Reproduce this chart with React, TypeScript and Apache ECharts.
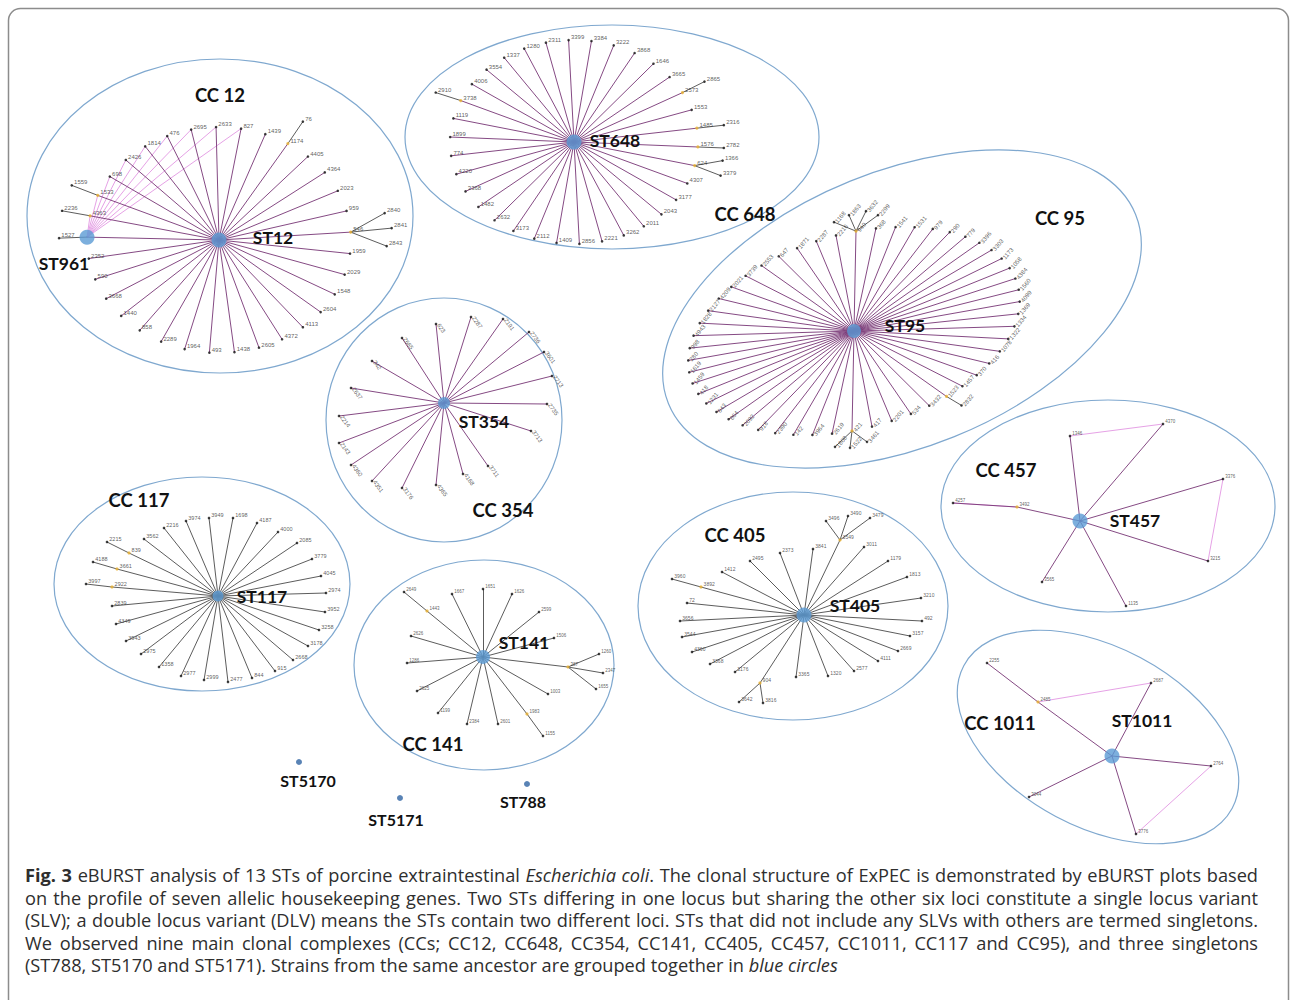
import React, { useEffect, useRef } from "react";
import * as echarts from "echarts";

type Off = [string, number, number];
type Child = [string, string, number, number];
type Pair = [string, string];

// ---------------- DATA ----------------
// CC12: leaves in clockwise order around ST12
const CC12_LEAVES = ["546", "1959", "2029", "1548", "2604", "4113", "4372", "2605", "1438", "493", "1964", "2289", "858", "1440", "3668", "590", "2352", "ST961", "4363", "1533", "698", "2426", "1814", "476", "2695", "2633", "827", "1439", "1174", "4405", "4364", "2023", "959"];
const CC12_CHILDREN: Child[] = [["1174", "76", 15, -22], ["1533", "1559", -26, -10], ["4363", "2236", -28, -5], ["ST961", "1527", -28, 1], ["546", "2840", 34, -19], ["546", "2841", 41, -4], ["546", "2843", 36, 14]];
const CC12_PINK: Pair[] = [["ST961", "4363"], ["ST961", "1533"], ["ST961", "698"], ["ST961", "2426"], ["ST961", "1814"], ["ST961", "476"], ["ST961", "2695"], ["ST961", "2633"], ["ST961", "827"]];

const CC648_LEAVES = ["1576", "624", "4307", "3177", "2043", "2011", "3262", "2221", "2856", "1409", "2112", "3173", "2632", "1482", "3368", "4220", "774", "1899", "1119", "3738", "4006", "3554", "1337", "1280", "2311", "3399", "3384", "3222", "3868", "1646", "3665", "2573", "1553", "1485"];
const CC648_CHILDREN: Child[] = [["2573", "2865", 22, -11], ["1485", "2316", 27, -3], ["1576", "2782", 26, 1], ["624", "1366", 28, -5], ["624", "3379", 26, 10], ["3738", "2910", -25, -8]];

const CC95_LEAVES = ["940", "368", "1541", "1531", "979", "290", "779", "3396", "3303", "1173", "1058", "4384", "1560", "4099", "1369", "1334", "1322", "1078", "416", "370", "1457", "1523", "3432", "534", "2201", "417", "421", "2619", "3964", "142", "2390", "918", "2092", "864", "643", "1231", "418", "1459", "1619", "280", "998", "4943", "1828", "2127", "4209", "2021", "3739", "2553", "647", "1871", "2287", "2216"];
const CC95_CHILDREN: Child[] = [["940", "1168", -22, -9], ["940", "1863", -7, -16], ["940", "3632", 10, -20], ["940", "2299", 22, -16], ["421", "1808", -17, 16], ["421", "1522", -2, 17], ["421", "3461", 15, 11], ["1523", "2832", 15, 9]];

const CC354_SPOKES: Off[] = [["623", -8, -79], ["2287", 27, -86], ["2191", 59, -84], ["2736", 85, -71], ["3601", 100, -51], ["2713", 108, -27], ["2735", 103, 1], ["3713", 87, 28], ["3711", 44, 63], ["4168", 19, 71], ["4365", -8, 82], ["3176", -42, 85], ["4351", -72, 78], ["4360", -93, 62], ["2143", -105, 40], ["2214", -105, 13], ["2637", -93, -15], ["342", -72, -42], ["2665", -42, -65]];

const CC117_SPOKES: Off[] = [["3949", -9, -78], ["1698", 15, -78], ["4187", 39, -73], ["4000", 60, -64], ["2085", 79, -53], ["3779", 94, -37], ["4045", 103, -20], ["2974", 108, -3], ["3952", 107, 16], ["3258", 101, 34], ["3178", 90, 50], ["2668", 75, 64], ["915", 57, 75], ["844", 34, 82], ["2477", 10, 86], ["2999", -14, 84], ["2977", -37, 80], ["1358", -59, 71], ["2975", -77, 58], ["3943", -92, 45], ["4349", -102, 28], ["2839", -106, 10], ["2922", -106, -9], ["3661", -101, -27], ["839", -89, -43], ["3562", -74, -57], ["2216", -54, -68], ["3974", -32, -75]];
const CC117_CHILDREN: Child[] = [["2922", "3997", -26, -3], ["3661", "4188", -24, -7], ["839", "2215", -22, -11]];

const CC141_SPOKES: Off[] = [["1651", 0, -68], ["1626", 29, -63], ["2599", 56, -45], ["1506", 71, -19], ["387", 85, 10], ["1003", 65, 37], ["1983", 44, 57], ["2601", 15, 67], ["2384", -16, 67], ["1199", -45, 56], ["2625", -66, 34], ["1286", -76, 6], ["2626", -72, -21], ["1443", -56, -46], ["1667", -31, -63]];
const CC141_CHILDREN: Child[] = [["387", "1260", 31, -13], ["387", "2347", 35, 6], ["387", "1655", 28, 22], ["1983", "1155", 16, 22], ["1443", "2649", -23, -19]];

const CC405_SPOKES: Off[] = [["3841", 9, -66], ["3549", 36, -75], ["3011", 60, -68], ["1179", 84, -54], ["1813", 103, -38], ["3210", 117, -17], ["492", 118, 6], ["3157", 106, 21], ["2669", 94, 36], ["4111", 74, 46], ["2577", 50, 56], ["1320", 24, 61], ["3365", -8, 62], ["904", -44, 68], ["3176", -69, 57], ["3368", -94, 49], ["4360", -112, 37], ["3544", -122, 22], ["3656", -124, 6], ["72", -117, -12], ["3892", -103, -28], ["1412", -82, -43], ["2495", -54, -54], ["2373", -24, -62]];
const CC405_CHILDREN: Child[] = [["3549", "3496", -14, -19], ["3549", "3490", 8, -24], ["3549", "3479", 30, -22], ["904", "3642", -21, 19], ["904", "3816", 3, 20], ["3892", "3960", -29, -8]];

const CC457_SPOKES: Off[] = [["1346", -10, -85], ["4370", 83, -97], ["3376", 143, -42], ["3215", 128, 40], ["1135", 46, 85], ["3565", -38, 61], ["3492", -63, -14]];
const CC457_CHILDREN: Child[] = [["3492", "4257", -64, -4]];
const CC457_PINK: Pair[] = [["1346", "4370"], ["3376", "3215"], ["3492", "4257"]];

const CC1011_SPOKES: Off[] = [["2485", -74, -54], ["2687", 39, -73], ["2764", 99, 10], ["3776", 24, 78], ["3044", -83, 41]];
const CC1011_CHILDREN: Child[] = [["2485", "2255", -51, -39]];
const CC1011_PINK: Pair[] = [["2485", "2687"], ["2764", "3776"]];

const SINGLETON_NAMES = ["ST5170", "ST5171", "ST788"];

const CAPTION_LINES = [
  "{b|Fig. 3} eBURST analysis of 13 STs of porcine extraintestinal {i|Escherichia coli}. The clonal structure of ExPEC is demonstrated by eBURST plots based",
  "on the profile of seven allelic housekeeping genes. Two STs differing in one locus but sharing the other six loci constitute a single locus variant",
  "(SLV); a double locus variant (DLV) means the STs contain two different loci. STs that did not include any SLVs with others are termed singletons.",
  "We observed nine main clonal complexes (CCs; CC12, CC648, CC354, CC141, CC405, CC457, CC1011, CC117 and CC95), and three singletons",
  "(ST788, ST5170 and ST5171). Strains from the same ancestor are grouped together in {i|blue circles}",
];

// ---------------- STYLE / LAYOUT ----------------
const PURPLE = "#773575";
const GRAY = "#4a4a4a";
const PINK = "#e6a2e6";
const HUB_BLUE = "#5b9bd5";
const ORANGE = "#e8b030";
const RING = "#7fa8cf";

type Ring = { leaves: string[]; rx: number; ry: number; tilt: number; start: number };
type Cluster = {
  cc: string; hub: string; at: [number, number]; hubSize: number;
  ring?: Ring; spokes?: Off[]; children: Child[]; pink: Pair[];
  spoke: string; childColor: string; rot: number; fs: number;
  ell: [number, number, number, number, number]; ccAt: [number, number]; stAt: [number, number];
};

const CLUSTERS: Cluster[] = [
  { cc: "CC 12", hub: "ST12", at: [219, 240], hubSize: 15, ring: { leaves: CC12_LEAVES, rx: 132, ry: 113, tilt: 0, start: 4 }, children: CC12_CHILDREN, pink: CC12_PINK, spoke: PURPLE, childColor: GRAY, rot: 0, fs: 6, ell: [220, 216, 193, 157, 0], ccAt: [220, 95], stAt: [273, 237] },
  { cc: "CC 648", hub: "ST648", at: [574, 142], hubSize: 15, ring: { leaves: CC648_LEAVES, rx: 124, ry: 102, tilt: 0, start: -2.8 }, children: CC648_CHILDREN, pink: [], spoke: PURPLE, childColor: GRAY, rot: 0, fs: 6, ell: [612, 137, 207, 112, 0], ccAt: [745, 214], stAt: [615, 140] },
  { cc: "CC 95", hub: "ST95", at: [854, 331], hubSize: 14, ring: { leaves: CC95_LEAVES, rx: 170, ry: 97, tilt: 15.7, start: 80.2 }, children: CC95_CHILDREN, pink: [], spoke: PURPLE, childColor: GRAY, rot: 50, fs: 6, ell: [902, 309, 252, 138, 22], ccAt: [1060, 218], stAt: [905, 325] },
  { cc: "CC 354", hub: "ST354", at: [444, 403], hubSize: 12, spokes: CC354_SPOKES, children: [], pink: [], spoke: PURPLE, childColor: GRAY, rot: -55, fs: 6, ell: [444, 420, 118, 122, 0], ccAt: [503, 510], stAt: [484, 421] },
  { cc: "CC 117", hub: "ST117", at: [218, 596], hubSize: 11, spokes: CC117_SPOKES, children: CC117_CHILDREN, pink: [], spoke: GRAY, childColor: GRAY, rot: 0, fs: 5.5, ell: [202, 584, 148, 107, 0], ccAt: [139, 500], stAt: [262, 596] },
  { cc: "CC 141", hub: "ST141", at: [483, 657], hubSize: 14, spokes: CC141_SPOKES, children: CC141_CHILDREN, pink: [], spoke: GRAY, childColor: GRAY, rot: 0, fs: 4.5, ell: [484, 665, 130, 105, 0], ccAt: [433, 744], stAt: [524, 642] },
  { cc: "CC 405", hub: "ST405", at: [804, 615], hubSize: 15, spokes: CC405_SPOKES, children: CC405_CHILDREN, pink: [], spoke: GRAY, childColor: GRAY, rot: 0, fs: 5, ell: [793, 606, 155, 114, 0], ccAt: [735, 535], stAt: [855, 605] },
  { cc: "CC 457", hub: "ST457", at: [1080, 521], hubSize: 15, spokes: CC457_SPOKES, children: CC457_CHILDREN, pink: CC457_PINK, spoke: PURPLE, childColor: PURPLE, rot: 0, fs: 4.5, ell: [1108, 506, 167, 106, 0], ccAt: [1006, 470], stAt: [1135, 520] },
  { cc: "CC 1011", hub: "ST1011", at: [1112, 756], hubSize: 15, spokes: CC1011_SPOKES, children: CC1011_CHILDREN, pink: CC1011_PINK, spoke: PURPLE, childColor: PURPLE, rot: 0, fs: 4.5, ell: [1098, 737, 152, 90, -28], ccAt: [1000, 723], stAt: [1142, 720] },
];

const SINGLETON_LAYOUT: { dot: [number, number]; label: [number, number] }[] = [
  { dot: [299, 762], label: [308, 780] },
  { dot: [400, 798], label: [396, 819] },
  { dot: [527, 784], label: [523, 801] },
];

const BOLD_FONT = "Lato, 'Open Sans', sans-serif";
const LEAF_FONT = "'Liberation Sans', Arial, sans-serif";
const CAP_FONT = "'Open Sans'";
const CAP_SIZE = 18.2;
const CAP_LEFT = 25;
const CAP_RIGHT = 1258;
const CAP_TOP = 875;
const CAP_STEP = 22.5;

function ringPos(at: [number, number], r: Ring, i: number): [number, number] {
  const n = r.leaves.length;
  const t = ((r.start - (i * 360) / n) * Math.PI) / 180;
  const phi = (r.tilt * Math.PI) / 180;
  const lx = r.rx * Math.cos(t);
  const ly = r.ry * Math.sin(t);
  const X = lx * Math.cos(phi) - ly * Math.sin(phi);
  const Y = lx * Math.sin(phi) + ly * Math.cos(phi);
  return [at[0] + X, at[1] - Y];
}

function captionElements(): any[] {
  const canvas = document.createElement("canvas");
  const ctx = canvas.getContext("2d")!;
  const fontOf = (s: string) =>
    `${s === "i" ? "italic " : ""}${s === "b" ? "bold " : ""}${CAP_SIZE}px ${CAP_FONT}`;
  const base = { fontSize: CAP_SIZE, fontFamily: CAP_FONT, fill: "#2e2e2e", color: "#2e2e2e" };
  const rich = {
    n: { ...base },
    b: { ...base, fontWeight: "bold" },
    i: { ...base, fontStyle: "italic" },
  };
  const els: any[] = [];
  CAPTION_LINES.forEach((line, li) => {
    const pieces: { t: string; s: string }[] = [];
    const re = /\{(b|i)\|([^}]*)\}/g;
    let last = 0;
    let m: RegExpExecArray | null;
    while ((m = re.exec(line))) {
      if (m.index > last) pieces.push({ t: line.slice(last, m.index), s: "n" });
      pieces.push({ t: m[2], s: m[1] });
      last = m.index + m[0].length;
    }
    if (last < line.length) pieces.push({ t: line.slice(last), s: "n" });
    const words: { t: string; s: string }[][] = [[]];
    pieces.forEach((p) => {
      p.t.split(" ").forEach((part, k) => {
        if (k > 0) words.push([]);
        if (part) words[words.length - 1].push({ t: part, s: p.s });
      });
    });
    const ws = words.filter((w) => w.length);
    const widths = ws.map((w) =>
      w.reduce((a, p) => {
        ctx.font = fontOf(p.s);
        return a + ctx.measureText(p.t).width;
      }, 0)
    );
    ctx.font = fontOf("n");
    const space = ctx.measureText(" ").width;
    const total = widths.reduce((a, b) => a + b, 0);
    const justify = li < CAPTION_LINES.length - 1;
    const gap = justify ? (CAP_RIGHT - CAP_LEFT - total) / (ws.length - 1) : space;
    let x = CAP_LEFT;
    const y = CAP_TOP + li * CAP_STEP;
    ws.forEach((w, k) => {
      els.push({
        type: "text",
        x,
        y,
        z: 10,
        silent: true,
        style: {
          text: w.map((p) => `{${p.s}|${p.t}}`).join(""),
          ...base,
          rich,
          textAlign: "left",
          textVerticalAlign: "middle",
        },
      });
      x += widths[k] + gap;
    });
  });
  return els;
}

function buildOption() {
  const pinkEdges: any[] = [];
  const spokeEdges: any[] = [];
  const childEdges: any[] = [];
  const leafSeries: any[] = [];
  const hubData: any[] = [];
  const graphics: any[] = [];

  const edge = (a: [number, number], b: [number, number], color: string, w = 0.9) => ({
    coords: [a, b],
    lineStyle: { color, width: w, opacity: 1 },
  });
  const bigText = (text: string, x: number, y: number, size: number) => ({
    type: "text",
    x,
    y,
    z: 10,
    silent: true,
    style: { text, fontSize: size, fontWeight: "bold", fontFamily: BOLD_FONT, fill: "#111", textAlign: "center", textVerticalAlign: "middle" },
  });

  CLUSTERS.forEach((c) => {
    const pos: Record<string, [number, number]> = {};
    pos[c.hub] = c.at;
    const leafNames: string[] = [];
    if (c.ring) {
      c.ring.leaves.forEach((name, i) => {
        pos[name] = ringPos(c.at, c.ring!, i);
        leafNames.push(name);
      });
    }
    if (c.spokes) {
      c.spokes.forEach(([name, dx, dy]) => {
        pos[name] = [c.at[0] + dx, c.at[1] + dy];
        leafNames.push(name);
      });
    }
    const parents = new Set<string>();
    c.children.forEach(([p, ch, dx, dy]) => {
      pos[ch] = [pos[p][0] + dx, pos[p][1] + dy];
      parents.add(p);
    });
    c.pink.forEach(([a, b]) => pinkEdges.push(edge(pos[a], pos[b], PINK, 1)));
    leafNames.forEach((n) => spokeEdges.push(edge(c.at, pos[n], c.spoke)));
    c.children.forEach(([p, ch]) => childEdges.push(edge(pos[p], pos[ch], c.childColor)));

    const nodes: any[] = [];
    const all = [...leafNames, ...c.children.map((x) => x[1])];
    all.forEach((n) => {
      if (n.startsWith("ST")) {
        hubData.push({ value: [pos[n][0], pos[n][1], n], symbolSize: 15 });
        return;
      }
      nodes.push({
        value: [pos[n][0], pos[n][1], n],
        itemStyle: { color: parents.has(n) ? ORANGE : "#111" },
        symbolSize: parents.has(n) ? 3.2 : 2.6,
      });
    });
    leafSeries.push({
      type: "scatter",
      z: 3,
      silent: true,
      data: nodes,
      label: {
        show: true,
        position: "right",
        distance: 1,
        offset: c.rot === 0 ? [0, -3] : [0, 0],
        rotate: c.rot,
        fontSize: c.fs,
        color: "#333",
        fontFamily: LEAF_FONT,
        formatter: (p: any) => p.value[2],
      },
    });
    hubData.push({ value: [c.at[0], c.at[1], c.hub], symbolSize: c.hubSize });

    const [ex, ey, erx, ery, et] = c.ell;
    graphics.push({
      type: "ellipse",
      x: ex,
      y: ey,
      rotation: (et * Math.PI) / 180,
      shape: { cx: 0, cy: 0, rx: erx, ry: ery },
      style: { fill: "none", stroke: RING, lineWidth: 1.2 },
      z: 1,
      silent: true,
    });
    graphics.push(bigText(c.cc, c.ccAt[0], c.ccAt[1], 18.5));
    graphics.push(bigText(c.hub, c.stAt[0], c.stAt[1], 17.5));
  });

  graphics.push(bigText("ST961", 64, 263, 17.5));

  const singletonData = SINGLETON_NAMES.map((n, i) => ({
    value: [SINGLETON_LAYOUT[i].dot[0], SINGLETON_LAYOUT[i].dot[1], n],
  }));
  SINGLETON_NAMES.forEach((n, i) => {
    graphics.push(bigText(n, SINGLETON_LAYOUT[i].label[0], SINGLETON_LAYOUT[i].label[1], 16));
  });

  graphics.push(...captionElements());

  graphics.push({
    type: "rect",
    z: 0,
    silent: true,
    shape: { x: 8.5, y: 8.5, width: 1280, height: 1020, r: 12 },
    style: { fill: "none", stroke: "#8c8c8c", lineWidth: 1.5 },
  });

  return {
    animation: false,
    backgroundColor: "#ffffff",
    grid: { left: 0, right: 0, top: 0, bottom: 0 },
    xAxis: { type: "value", min: 0, max: 1290, show: false },
    yAxis: { type: "value", min: 0, max: 1000, inverse: true, show: false },
    series: [
      {
        type: "lines",
        coordinateSystem: "cartesian2d",
        silent: true,
        z: 2,
        lineStyle: { width: 0.9, opacity: 1, curveness: 0 },
        data: [...pinkEdges, ...spokeEdges, ...childEdges],
      },
      ...leafSeries,
      {
        type: "scatter",
        z: 4,
        silent: true,
        itemStyle: { color: HUB_BLUE },
        data: hubData,
      },
      {
        type: "scatter",
        z: 4,
        silent: true,
        symbolSize: 6,
        itemStyle: { color: "#2f64a3" },
        data: singletonData,
      },
    ],
    graphic: { elements: graphics },
  };
}

export default function App() {
  const ref = useRef<HTMLDivElement>(null);
  useEffect(() => {
    const chart = echarts.init(ref.current!, null, { renderer: "svg" });
    chart.setOption(buildOption() as any);
    return () => chart.dispose();
  }, []);
  return (
    <div
      ref={ref}
      style={{ position: "absolute", left: 0, top: 0, width: 1290, height: 1000, background: "#fff" }}
    />
  );
}
